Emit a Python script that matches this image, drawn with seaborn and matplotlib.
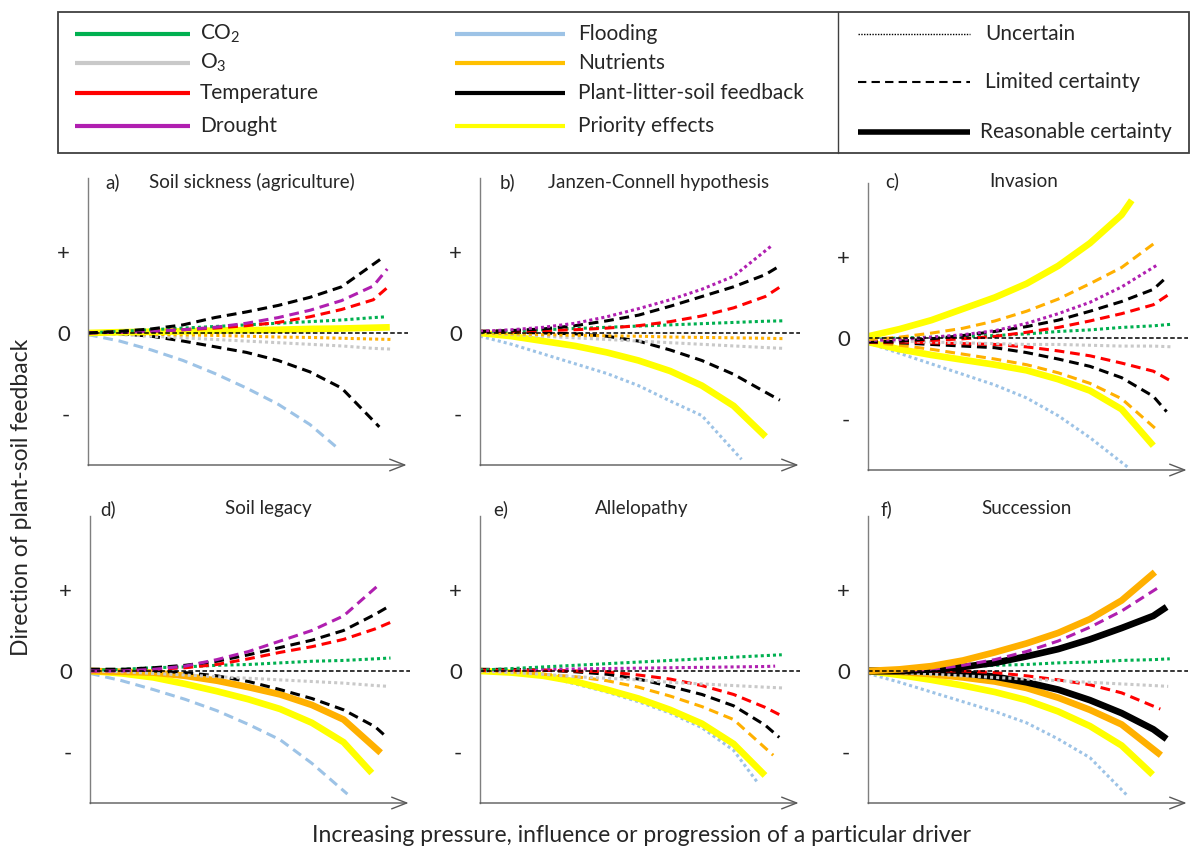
import matplotlib
matplotlib.use("Agg")
import matplotlib.pyplot as plt
from matplotlib.patches import Rectangle
import seaborn as sns

sns.set_theme(style="white")
plt.rcParams["font.family"] = ["Lato", "DejaVu Sans"]
plt.rcParams["mathtext.default"] = "regular"

# ---------------- data ----------------
DRIVERS = ["CO2", "O3", "Temperature", "Drought", "Flooding", "Nutrients", "PLSF", "Priority"]
DRIVER_LABELS = ["CO$_2$", "O$_3$", "Temperature", "Drought", "Flooding", "Nutrients",
                 "Plant-litter-soil feedback", "Priority effects"]
CERTAINTY = ["uncertain", "limited", "reasonable"]
CERTAINTY_LABELS = ["Uncertain", "Limited certainty", "Reasonable certainty"]
PANEL_LETTERS = ["a)", "b)", "c)", "d)", "e)", "f)"]
PANEL_TITLES = ["Soil sickness (agriculture)", "Janzen-Connell hypothesis", "Invasion",
                "Soil legacy", "Allelopathy", "Succession"]
Y_TICKS = [1, 0, -1]
Y_TICK_LABELS = ["+", "0", "-"]
X_STEPS = [0, 1, 2, 3, 4, 5, 6, 7, 8, 9]

# (driver, certainty, values read at X_STEPS, end x, end value)
PANEL_A = [
    ("Flooding", "limited", [-0.02, -0.10, -0.21, -0.34, -0.50, -0.68, -0.88, -1.13], 7.93, -1.44),
    ("PLSF", "limited", [0, -0.01, -0.04, -0.10, -0.17, -0.24, -0.34, -0.48, -0.68, -1.00], 9.19, -1.16),
    ("O3", "uncertain", [0, -0.02, -0.04, -0.06, -0.08, -0.10, -0.12, -0.14, -0.16, -0.19], 9.62, -0.20),
    ("Nutrients", "uncertain", [0, -0.01, -0.015, -0.025, -0.03, -0.04, -0.05, -0.055, -0.065, -0.075], 9.6, -0.08),
    ("Priority", "reasonable", [0, 0.01, 0.015, 0.02, 0.03, 0.035, 0.04, 0.05, 0.055, 0.065], 9.52, 0.07),
    ("CO2", "uncertain", [0, 0.02, 0.04, 0.06, 0.08, 0.10, 0.12, 0.14, 0.16, 0.19], 9.42, 0.20),
    ("Temperature", "limited", [0, 0.01, 0.02, 0.04, 0.06, 0.09, 0.13, 0.20, 0.29, 0.41], 9.5, 0.58),
    ("Drought", "limited", [0, 0.01, 0.02, 0.04, 0.07, 0.12, 0.19, 0.28, 0.40, 0.58], 9.44, 0.79),
    ("PLSF", "limited", [0, 0.02, 0.05, 0.10, 0.19, 0.26, 0.34, 0.44, 0.57, 0.78], 9.26, 0.92),
]
PANEL_B = [
    ("Flooding", "uncertain", [-0.04, -0.14, -0.26, -0.38, -0.50, -0.65, -0.84, -1.02, -1.40], 8.25, -1.56),
    ("Priority", "reasonable", [0, -0.04, -0.10, -0.16, -0.24, -0.34, -0.47, -0.65, -0.90], 9.01, -1.28),
    ("PLSF", "limited", [0.02, 0.01, 0.0, -0.01, -0.04, -0.10, -0.21, -0.34, -0.51, -0.73], 9.46, -0.83),
    ("O3", "uncertain", [0, -0.02, -0.04, -0.06, -0.08, -0.10, -0.12, -0.14, -0.16, -0.18], 9.56, -0.19),
    ("Nutrients", "uncertain", [0, -0.01, -0.02, -0.03, -0.035, -0.04, -0.05, -0.055, -0.06, -0.065], 9.56, -0.07),
    ("CO2", "uncertain", [0.01, 0.025, 0.04, 0.055, 0.07, 0.085, 0.10, 0.115, 0.13, 0.145], 9.56, 0.15),
    ("Temperature", "limited", [0.02, 0.02, 0.03, 0.04, 0.06, 0.09, 0.14, 0.21, 0.31, 0.45], 9.59, 0.60),
    ("PLSF", "limited", [0.02, 0.03, 0.05, 0.09, 0.15, 0.22, 0.33, 0.45, 0.57, 0.72], 9.38, 0.81),
    ("Drought", "uncertain", [0.02, 0.04, 0.07, 0.12, 0.20, 0.30, 0.41, 0.54, 0.70, 0.98], 9.24, 1.09),
]
PANEL_C = [
    ("Flooding", "uncertain", [-0.06, -0.19, -0.32, -0.45, -0.58, -0.74, -0.96, -1.23, -1.52], 8.21, -1.60),
    ("Priority", "reasonable", [-0.05, -0.14, -0.21, -0.27, -0.33, -0.40, -0.51, -0.65, -0.88], 9.0, -1.33),
    ("Nutrients", "limited", [-0.05, -0.09, -0.14, -0.20, -0.26, -0.33, -0.43, -0.56, -0.75, -1.05], 9.13, -1.14),
    ("PLSF", "limited", [-0.05, -0.06, -0.08, -0.10, -0.12, -0.18, -0.26, -0.35, -0.49, -0.72], 9.42, -0.91),
    ("Temperature", "limited", [-0.05, -0.05, -0.06, -0.07, -0.08, -0.11, -0.16, -0.22, -0.31, -0.41], 9.55, -0.53),
    ("O3", "uncertain", [-0.03, -0.04, -0.05, -0.06, -0.07, -0.08, -0.08, -0.09, -0.10, -0.10], 9.63, -0.11),
    ("CO2", "uncertain", [-0.02, 0.0, 0.01, 0.02, 0.03, 0.05, 0.08, 0.10, 0.13, 0.15], 9.6, 0.17),
    ("Temperature", "limited", [-0.05, -0.04, -0.03, -0.01, 0.02, 0.07, 0.13, 0.21, 0.30, 0.41], 9.5, 0.54),
    ("PLSF", "limited", [-0.05, -0.04, -0.01, 0.03, 0.08, 0.14, 0.22, 0.33, 0.45, 0.60], 9.39, 0.74),
    ("Drought", "uncertain", [-0.03, -0.02, 0.01, 0.04, 0.09, 0.18, 0.30, 0.44, 0.63, 0.85], 9.16, 0.91),
    ("Nutrients", "limited", [-0.02, 0.01, 0.06, 0.12, 0.21, 0.33, 0.48, 0.67, 0.87], 9.0, 1.16),
    ("Priority", "reasonable", [0.02, 0.11, 0.22, 0.36, 0.50, 0.67, 0.89, 1.17, 1.52], 8.32, 1.70),
]
PANEL_D = [
    ("Flooding", "limited", [-0.03, -0.12, -0.23, -0.35, -0.49, -0.66, -0.85, -1.14, -1.48], 8.12, -1.52),
    ("Priority", "reasonable", [0, -0.03, -0.08, -0.16, -0.25, -0.35, -0.47, -0.64, -0.88], 8.89, -1.26),
    ("Nutrients", "reasonable", [0, -0.01, -0.02, -0.06, -0.12, -0.20, -0.29, -0.42, -0.60, -0.93], 9.17, -1.01),
    ("PLSF", "limited", [0.02, 0.02, 0.0, -0.02, -0.06, -0.13, -0.23, -0.34, -0.48, -0.69], 9.31, -0.80),
    ("O3", "uncertain", [0, -0.01, -0.03, -0.05, -0.07, -0.09, -0.11, -0.13, -0.15, -0.18], 9.42, -0.19),
    ("CO2", "uncertain", [0.01, 0.02, 0.04, 0.05, 0.07, 0.08, 0.10, 0.12, 0.13, 0.15], 9.48, 0.16),
    ("Temperature", "limited", [0, 0.01, 0.02, 0.04, 0.08, 0.15, 0.23, 0.30, 0.39, 0.52], 9.48, 0.60),
    ("PLSF", "limited", [0.02, 0.02, 0.04, 0.07, 0.12, 0.20, 0.29, 0.38, 0.50, 0.70], 9.44, 0.80),
    ("Drought", "limited", [0, 0.0, 0.02, 0.06, 0.14, 0.24, 0.37, 0.50, 0.68, 1.02], 9.13, 1.07),
]
PANEL_E = [
    ("Flooding", "uncertain", [0.02, 0.0, -0.06, -0.16, -0.26, -0.38, -0.52, -0.70, -0.98], 8.78, -1.39),
    ("Priority", "reasonable", [0, -0.02, -0.06, -0.13, -0.23, -0.34, -0.48, -0.65, -0.90], 8.99, -1.29),
    ("Nutrients", "limited", [0, -0.01, -0.04, -0.07, -0.12, -0.20, -0.31, -0.44, -0.60, -0.90], 9.25, -1.04),
    ("PLSF", "limited", [0.02, 0.02, 0.01, -0.01, -0.04, -0.10, -0.19, -0.29, -0.43, -0.67], 9.44, -0.82),
    ("Temperature", "limited", [0.01, 0.01, 0.01, 0.0, -0.01, -0.05, -0.10, -0.18, -0.29, -0.45], 9.55, -0.56),
    ("O3", "uncertain", [0, -0.02, -0.04, -0.07, -0.09, -0.11, -0.14, -0.16, -0.18, -0.20], 9.57, -0.21),
    ("Drought", "uncertain", [0.01, 0.015, 0.02, 0.025, 0.03, 0.035, 0.04, 0.045, 0.05, 0.055], 9.31, 0.06),
    ("CO2", "uncertain", [0.01, 0.03, 0.05, 0.07, 0.09, 0.11, 0.13, 0.15, 0.17, 0.19], 9.52, 0.20),
]
PANEL_F = [
    ("Flooding", "uncertain", [-0.03, -0.14, -0.26, -0.38, -0.50, -0.64, -0.84, -1.07, -1.42], 8.21, -1.55),
    ("Priority", "reasonable", [0, -0.05, -0.11, -0.18, -0.26, -0.36, -0.50, -0.68, -0.92], 8.98, -1.28),
    ("Nutrients", "reasonable", [0, -0.01, -0.04, -0.08, -0.13, -0.21, -0.33, -0.48, -0.66, -0.92], 9.24, -1.04),
    ("PLSF", "reasonable", [0, 0, -0.01, -0.03, -0.07, -0.14, -0.23, -0.36, -0.52, -0.72], 9.42, -0.84),
    ("Temperature", "limited", [0, 0, 0, 0, -0.02, -0.06, -0.11, -0.17, -0.27, -0.40], 9.22, -0.47),
    ("O3", "uncertain", [0, -0.02, -0.04, -0.06, -0.08, -0.10, -0.12, -0.14, -0.16, -0.18], 9.47, -0.19),
    ("CO2", "uncertain", [0, 0.01, 0.03, 0.05, 0.07, 0.08, 0.10, 0.11, 0.13, 0.14], 9.52, 0.15),
    ("PLSF", "reasonable", [0, 0, 0.02, 0.05, 0.10, 0.18, 0.27, 0.39, 0.53, 0.68], 9.42, 0.79),
    ("Drought", "limited", [0, 0, 0.02, 0.07, 0.14, 0.24, 0.37, 0.54, 0.74, 0.99], 9.16, 1.03),
    ("Nutrients", "reasonable", [0, 0.02, 0.06, 0.13, 0.23, 0.34, 0.47, 0.64, 0.87], 9.05, 1.22),
]
PANELS = [PANEL_A, PANEL_B, PANEL_C, PANEL_D, PANEL_E, PANEL_F]

# ---------------- styles / layout ----------------
COLORS = {"CO2": "#00B050", "O3": "#C9C9C9", "Temperature": "#FF0000", "Drought": "#B01FB0",
          "Flooding": "#9DC3E6", "Nutrients": "#FFB000", "PLSF": "#000000", "Priority": "#FFFF00"}
LEGEND_COLORS = dict(COLORS, Nutrients="#FFC000")
STYLES = {"uncertain": dict(lw=2.2, linestyle=(0, (1, 1))),
          "limited": dict(lw=2.2, linestyle=(0, (3.2, 1.9))),
          "reasonable": dict(lw=4.8, linestyle="-")}

W, H = 1191, 849
PX_X = 31.7       # px per x unit
PX_Y = 81.0       # px per y unit
YLIM = (-1.63, 1.91)
XMAX = 10.4
AX_LEFT = [88, 480, 868, 90, 480, 868]
AX_BASE = [465, 465, 470, 803, 803, 803]
LETTER_X = [0.54, 0.63, 0.54, 0.32, 0.41, 0.38]
TITLE_X = [5.16, 5.63, 4.9, 5.63, 5.09, 5.0]
TITLE_Y = [1.86, 1.86, 1.93, 2.0, 2.0, 2.0]
AXIS_GRAY = "#7F7F7F"
TEXT = "#262626"
FS = 13.5
FS_LEG = 15

fig = plt.figure(figsize=(W / 100, H / 100), dpi=100)

for i, curves in enumerate(PANELS):
    w_px = XMAX * PX_X
    h_px = (YLIM[1] - YLIM[0]) * PX_Y
    ax = fig.add_axes([AX_LEFT[i] / W, (H - AX_BASE[i]) / H, w_px / W, h_px / H])
    ax.set_xlim(0, XMAX)
    ax.set_ylim(*YLIM)
    for drv, cert, ys, xe, ye in curves:
        pts = [(x, y) for x, y in zip(X_STEPS, ys) if x < xe - 0.3]
        xs = [p[0] for p in pts] + [xe]
        yv = [p[1] for p in pts] + [ye]
        sns.lineplot(x=xs, y=yv, ax=ax, color=COLORS[drv], sort=False, estimator=None,
                     legend=False, solid_capstyle="butt", dash_capstyle="butt",
                     solid_joinstyle="round", **STYLES[cert])
    ax.plot([0, 10.1], [0, 0], color="black", lw=1.1, linestyle=(0, (3, 1.6)))
    for s in ["top", "right", "bottom"]:
        ax.spines[s].set_visible(False)
    ax.spines["left"].set_color(AXIS_GRAY)
    ax.spines["left"].set_linewidth(1.0)
    ax.annotate("", xy=(10.05, YLIM[0]), xytext=(0, YLIM[0]), annotation_clip=False,
                arrowprops=dict(arrowstyle="->,head_length=0.9,head_width=0.35",
                                color="#595959", lw=1.0, shrinkA=0, shrinkB=0))
    ax.set_xticks([])
    ax.set_yticks(Y_TICKS)
    ax.set_yticklabels(Y_TICK_LABELS, fontsize=16, color=TEXT)
    ax.tick_params(axis="y", length=0, pad=13)
    ax.set_xlabel("")
    ax.set_ylabel("")
    ax.text(LETTER_X[i], TITLE_Y[i], PANEL_LETTERS[i], fontsize=FS, ha="left", va="center",
            color=TEXT)
    ax.text(TITLE_X[i], TITLE_Y[i], PANEL_TITLES[i], fontsize=FS, ha="center", va="center",
            color=TEXT)

fig.text(22 / W, 1 - 497 / H, "Direction of plant-soil feedback", rotation=90,
         ha="center", va="center", fontsize=16.5, color=TEXT)
fig.text(641 / W, 1 - 835 / H, "Increasing pressure, influence or progression of a particular driver",
         ha="center", va="center", fontsize=16.5, color=TEXT)

# ---------------- legend box ----------------
lg = fig.add_axes([0, 0, 1, 1], zorder=5)
lg.set_xlim(0, W)
lg.set_ylim(H, 0)
lg.axis("off")
lg.patch.set_alpha(0)
lg.add_patch(Rectangle((58, 12), 1131, 141, fill=False, edgecolor="#404040", lw=1.3))
lg.plot([838, 838], [12, 153], color="#404040", lw=1.0)
ROW_Y = [34, 63, 93, 126]
for k, (drv, lab) in enumerate(zip(DRIVERS, DRIVER_LABELS)):
    col, row = divmod(k, 4)
    x0, x1, xt = [(75, 190, 200), (455, 565, 578)][col]
    y = ROW_Y[row]
    lg.plot([x0, x1], [y, y], color=LEGEND_COLORS[drv], lw=3.0, solid_capstyle="butt")
    lg.text(xt, y, lab, fontsize=FS_LEG, ha="left", va="center", color=TEXT)
CERT_Y = [34, 82, 132]
CERT_LEG_STYLE = [dict(lw=1.0, linestyle=(0, (1, 1))), dict(lw=1.5, linestyle=(0, (4, 2.5))),
                  dict(lw=4.0, linestyle="-")]
for k, lab in enumerate(CERTAINTY_LABELS):
    y = CERT_Y[k]
    lg.plot([858, 970], [y, y], color="black", solid_capstyle="butt", **CERT_LEG_STYLE[k])
    lg.text(985 if k < 2 else 980, y, lab, fontsize=FS_LEG, ha="left", va="center", color=TEXT)

fig.savefig("out.png", dpi=100)
